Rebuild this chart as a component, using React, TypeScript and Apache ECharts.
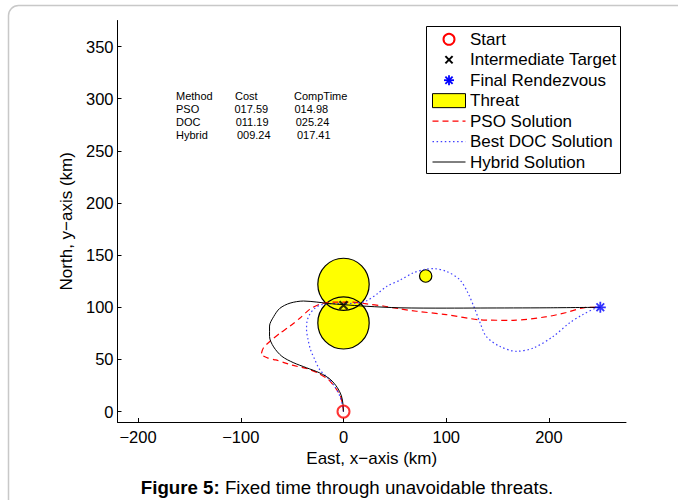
import React, { useEffect, useRef } from 'react';
import * as echarts from 'echarts';

// ---- data ----
const xTickValues = [-200, -100, 0, 100, 200];
const yTickValues = [0, 50, 100, 150, 200, 250, 300, 350];
const xRange = [-220, 275];
const yRange = [-10, 375];

const startPoint = [[0, 0]];
const intermediateTarget = [[0, 102]];
const finalRendezvous = [[250, 100]];
// x, y, radius (km)
const threats = [
  [0, 122, 25],
  [0, 85, 25],
  [80, 130, 6],
];

const psoPath = [
  [0, 0], [-1, 7], [-3, 15], [-8, 23], [-15, 31], [-25, 37], [-35, 41], [-50, 44.5],
  [-58, 47], [-66, 49.5], [-74, 51.5], [-80, 55], [-78, 61], [-72, 67], [-62, 75],
  [-52, 82], [-42, 90], [-33, 98], [-23, 103], [-10, 105], [9, 105], [21, 103.5],
  [40, 101], [55, 98.5], [71, 96.2], [100, 93], [133, 88], [165, 87.5], [198, 91],
  [217, 95], [237, 100], [250, 100],
];

const docPath = [
  [0, 0], [-1, 6], [-3.6, 15], [-8.5, 24], [-15, 32], [-23, 40], [-28, 50], [-32, 59],
  [-34.5, 69], [-36, 79], [-35.4, 87], [-33, 93], [-28, 99], [-21, 102.6], [-10, 103.5],
  [0, 103.5], [12, 104], [22, 106], [33, 113], [42, 120], [55, 126], [68, 133],
  [80, 136.5], [88, 137], [100, 134.5], [113, 126.6], [121, 114], [128, 98], [133, 85],
  [139, 72], [152, 62.6], [168.5, 57.8], [185, 61], [204, 72], [220, 85], [233, 93],
  [246, 99.4], [250, 100],
];

const hybridPath = [
  [0, 0], [-0.5, 7], [-2, 15], [-6, 23], [-13, 31], [-23, 37], [-36, 42], [-49, 47],
  [-60, 53], [-68, 62], [-72, 72], [-72, 82], [-68, 91], [-62, 99], [-52, 104],
  [-39, 106], [-26, 105], [-13, 103.5], [0, 102.5], [22, 101], [55, 99.5], [100, 99.2],
  [133, 99.3], [198, 99.5], [250, 100],
];

const tableHeader = ['Method', 'Cost', 'CompTime'];
const methods = ['PSO', 'DOC', 'Hybrid'];
const costs = ['017.59', '011.19', '009.24'];
const compTimes = ['014.98', '025.24', '017.41'];

const legendNames = [
  'Start',
  'Intermediate Target',
  'Final Rendezvous',
  'Threat',
  'PSO Solution',
  'Best DOC Solution',
  'Hybrid Solution',
];

const captionBold = 'Figure 5:';
const captionText = ' Fixed time through unavoidable threats.';

// ---- styles ----
const FONT = '"Liberation Sans", Arial, Helvetica, sans-serif';
const RED = '#ff0000';
const BLUE = '#0000ff';
const DOC_BLUE = '#4040ff';
const YELLOW = '#ffff00';

const fmt = (v: number) => String(v).replace('-', '\u2212');

function threatRender(fill: boolean) {
  return (params: any, api: any) => {
    const c = api.coord([api.value(0), api.value(1)]);
    const r = api.value(2);
    const s = api.size([r, r]);
    return {
      type: 'ellipse',
      shape: { cx: c[0], cy: c[1], rx: s[0], ry: s[1] },
      style: fill
        ? { fill: YELLOW, stroke: 'none' }
        : { fill: 'none', stroke: '#000', lineWidth: 1.2 },
    };
  };
}

export default function App() {
  const ref = useRef<HTMLDivElement>(null);

  useEffect(() => {
    if (!ref.current) return;
    const chart = echarts.init(ref.current, null, { renderer: 'svg' });

    const graphics: any[] = [];
    // outer frame
    graphics.push({
      type: 'rect',
      shape: { x: 8.5, y: 5.5, width: 720, height: 540, r: 10 },
      style: { fill: 'none', stroke: '#c8c8c8', lineWidth: 1.5 },
      silent: true,
      z: 1,
    });

    // table text
    const colX = [176, 235, 294];
    const rowY0 = 96.3;
    const rowStep = 13;
    tableHeader.forEach((t, i) => {
      graphics.push({
        type: 'text',
        x: colX[i],
        y: rowY0,
        style: { text: t, font: `11px ${FONT}`, fill: '#000', verticalAlign: 'middle' },
        z: 50,
      });
    });
    methods.forEach((m, r) => {
      const y = rowY0 + rowStep * (r + 1);
      const shift = r * 1.2;
      graphics.push({
        type: 'text', x: colX[0], y,
        style: { text: m, font: `11px ${FONT}`, fill: '#000', verticalAlign: 'middle' }, z: 50,
      });
      graphics.push({
        type: 'text', x: colX[1] - 0.5 + shift, y,
        style: { text: costs[r], font: `11px ${FONT}`, fill: '#000', verticalAlign: 'middle' }, z: 50,
      });
      graphics.push({
        type: 'text', x: colX[2] + 0.5 + shift, y,
        style: { text: compTimes[r], font: `11px ${FONT}`, fill: '#000', verticalAlign: 'middle' }, z: 50,
      });
    });

    // legend box
    const lgX = 426.5, lgY = 26.5, lgW = 194, lgH = 147;
    graphics.push({
      type: 'rect',
      shape: { x: lgX, y: lgY, width: lgW, height: lgH },
      style: { fill: '#fff', stroke: '#000', lineWidth: 1 },
      z: 60,
    });
    const iconL = 432.5, iconR = 465.5, iconC = 449;
    const textX = 470;
    const ey = (i: number) => 39.3 + i * 20.45;
    legendNames.forEach((n, i) => {
      graphics.push({
        type: 'text', x: textX, y: ey(i),
        style: { text: n, font: `17px ${FONT}`, fill: '#000', verticalAlign: 'middle' },
        z: 61,
      });
    });
    // icons
    graphics.push({
      type: 'circle', shape: { cx: iconC, cy: ey(0), r: 5.5 },
      style: { fill: 'none', stroke: RED, lineWidth: 2 }, z: 61,
    });
    const xs = 3.6;
    graphics.push({
      type: 'line', shape: { x1: iconC - xs, y1: ey(1) - xs, x2: iconC + xs, y2: ey(1) + xs },
      style: { stroke: '#000', lineWidth: 2 }, z: 61,
    });
    graphics.push({
      type: 'line', shape: { x1: iconC + xs, y1: ey(1) - xs, x2: iconC - xs, y2: ey(1) + xs },
      style: { stroke: '#000', lineWidth: 2 }, z: 61,
    });
    const as = 5;
    const ad = 3.6;
    [
      [0, -as, 0, as],
      [-as, 0, as, 0],
      [-ad, -ad, ad, ad],
      [ad, -ad, -ad, ad],
    ].forEach((l) => {
      graphics.push({
        type: 'line',
        shape: { x1: iconC + l[0], y1: ey(2) + l[1], x2: iconC + l[2], y2: ey(2) + l[3] },
        style: { stroke: BLUE, lineWidth: 1.8 }, z: 61,
      });
    });
    graphics.push({
      type: 'rect', shape: { x: iconL, y: ey(3) - 7, width: iconR - iconL, height: 14 },
      style: { fill: YELLOW, stroke: '#000', lineWidth: 1 }, z: 61,
    });
    graphics.push({
      type: 'line', shape: { x1: iconL, y1: ey(4), x2: iconR, y2: ey(4) },
      style: { stroke: RED, lineWidth: 1.2, lineDash: [6, 4] }, z: 61,
    });
    graphics.push({
      type: 'line', shape: { x1: iconL, y1: ey(5), x2: iconR, y2: ey(5) },
      style: { stroke: DOC_BLUE, lineWidth: 1.2, lineDash: [1.5, 2.6] }, z: 61,
    });
    graphics.push({
      type: 'line', shape: { x1: iconL, y1: ey(6), x2: iconR, y2: ey(6) },
      style: { stroke: '#000', lineWidth: 1 }, z: 61,
    });

    // caption
    graphics.push({
      type: 'text',
      x: 347,
      y: 487,
      style: {
        text: `{b|${captionBold}}${captionText}`,
        font: `18.7px ${FONT}`,
        fill: '#000',
        align: 'center',
        verticalAlign: 'middle',
        rich: {
          b: { fontWeight: 'bold', fontSize: 18.7, fontFamily: FONT, fill: '#000' },
        },
      },
      z: 50,
    });

    const option: any = {
      animation: false,
      backgroundColor: '#fff',
      grid: { left: 117.5, top: 20.5, right: 52, bottom: 78, containLabel: false },
      xAxis: {
        type: 'value',
        min: xRange[0],
        max: xRange[1],
        name: 'East, x\u2212axis (km)',
        nameLocation: 'middle',
        nameGap: 22,
        nameTextStyle: { fontFamily: FONT, fontSize: 17, color: '#000' },
        axisLine: { show: true, onZero: false, lineStyle: { color: '#000', width: 1 } },
        axisTick: { show: true, inside: true, length: 4, customValues: xTickValues, lineStyle: { color: '#000' } },
        axisLabel: {
          customValues: xTickValues,
          formatter: (v: number) => fmt(v),
          fontFamily: FONT,
          fontSize: 16.5,
          color: '#000',
          margin: 6,
        },
        splitLine: { show: false },
      },
      yAxis: {
        type: 'value',
        min: yRange[0],
        max: yRange[1],
        name: 'North, y\u2212axis (km)',
        nameLocation: 'middle',
        nameGap: 33,
        nameRotate: 90,
        nameTextStyle: { fontFamily: FONT, fontSize: 17, color: '#000' },
        axisLine: { show: true, onZero: false, lineStyle: { color: '#000', width: 1 } },
        axisTick: { show: true, inside: true, length: 4, customValues: yTickValues, lineStyle: { color: '#000' } },
        axisLabel: {
          customValues: yTickValues,
          formatter: (v: number) => fmt(v),
          fontFamily: FONT,
          fontSize: 16.5,
          color: '#000',
          margin: 4,
        },
        splitLine: { show: false },
      },
      series: [
        {
          type: 'custom',
          name: 'Threat',
          renderItem: threatRender(true),
          data: threats,
          encode: { x: 0, y: 1 },
          silent: true,
          z: 2,
        },
        {
          type: 'custom',
          name: 'Threat outline',
          renderItem: threatRender(false),
          data: threats,
          encode: { x: 0, y: 1 },
          silent: true,
          z: 3,
        },
        {
          type: 'line',
          name: 'PSO Solution',
          data: psoPath,
          showSymbol: false,
          smooth: 0.25,
          lineStyle: { color: RED, width: 1.2, type: [6, 4] },
          silent: true,
          z: 4,
        },
        {
          type: 'line',
          name: 'Best DOC Solution',
          data: docPath,
          showSymbol: false,
          smooth: 0.3,
          lineStyle: { color: DOC_BLUE, width: 1.2, type: [1.5, 2.6] },
          silent: true,
          z: 5,
        },
        {
          type: 'line',
          name: 'Hybrid Solution',
          data: hybridPath,
          showSymbol: false,
          smooth: 0.3,
          lineStyle: { color: '#000', width: 1 },
          silent: true,
          z: 6,
        },
        {
          type: 'scatter',
          name: 'Start',
          data: startPoint,
          symbol: 'circle',
          symbolSize: 12,
          itemStyle: { color: 'rgba(0,0,0,0)', borderColor: RED, borderWidth: 2 },
          silent: true,
          z: 7,
        },
        {
          type: 'scatter',
          name: 'Intermediate Target',
          data: intermediateTarget,
          symbol: 'path://M0,0L10,10M10,0L0,10',
          symbolSize: 8,
          itemStyle: { color: 'none', borderColor: '#000', borderWidth: 2.2 },
          silent: true,
          z: 8,
        },
        {
          type: 'scatter',
          name: 'Final Rendezvous',
          data: finalRendezvous,
          symbol: 'path://M5,0L5,10M0,5L10,5M1.5,1.5L8.5,8.5M8.5,1.5L1.5,8.5',
          symbolSize: 11,
          itemStyle: { color: 'none', borderColor: BLUE, borderWidth: 1.8 },
          silent: true,
          z: 8,
        },
      ],
      graphic: { elements: graphics },
    };

    chart.setOption(option);
    return () => chart.dispose();
  }, []);

  return (
    <div
      ref={ref}
      style={{ position: 'absolute', left: 0, top: 0, width: 678, height: 500 }}
    />
  );
}
